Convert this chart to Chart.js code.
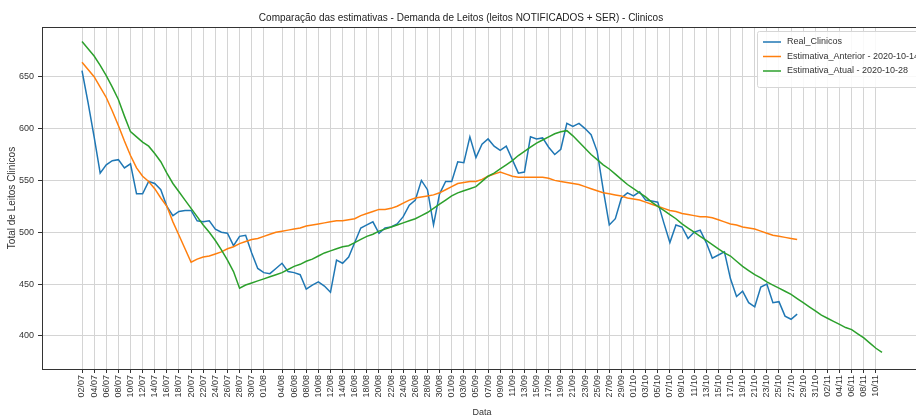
<!DOCTYPE html>
<html>
<head>
<meta charset="utf-8">
<script src="https://cdn.jsdelivr.net/npm/chart.js@4.4.0/dist/chart.umd.min.js"></script>
<style>
    html, body { margin: 0; padding: 0; overflow: hidden; background: #fff; }
    canvas { display: block; }
</style>
</head>
<body>
<canvas id="grafico" width="934" height="419"></canvas>
<script>
    "use strict";

    // Datas: um ponto por dia a partir de 02/07/2020
    const inicio = new Date(2020, 6, 2);
    const totalDias = 133;
    const datas = [];
    for (let i = 0; i < totalDias; i++) {
        const d = new Date(inicio.getFullYear(), inicio.getMonth(), inicio.getDate() + i);
        datas.push(String(d.getDate()).padStart(2, '0') + '/' + String(d.getMonth() + 1).padStart(2, '0'));
    }

    // Rotulos do eixo x (como no grafico original)
    const rotulosX = [
        '02/07', '04/07', '06/07', '08/07', '10/07', '12/07', '14/07', '16/07', '18/07', '20/07',
        '22/07', '24/07', '26/07', '28/07', '30/07', '01/08', '04/08', '06/08', '08/08', '10/08',
        '12/08', '14/08', '16/08', '18/08', '20/08', '22/08', '24/08', '26/08', '28/08', '30/08',
        '01/09', '03/09', '05/09', '07/09', '09/09', '11/09', '13/09', '15/09', '17/09', '19/09',
        '21/09', '23/09', '25/09', '27/09', '29/09', '01/10', '03/10', '05/10', '07/10', '09/10',
        '11/10', '13/10', '15/10', '17/10', '19/10', '21/10', '23/10', '25/10', '27/10', '29/10',
        '31/10', '02/11', '04/11', '06/11', '08/11', '10/11'
    ];
    const rotulosY = [400, 450, 500, 550, 600, 650];

    const realClinicos = [
        656, 625, 592, 557, 565, 569, 570, 562, 566, 537,
        537, 549, 547, 541, 525, 516, 520, 521, 521, 511,
        510, 511, 503, 500, 499, 487, 496, 497, 480, 465,
        461, 460, 465, 470, 462, 461, 459, 445, 449, 452,
        448, 442, 473, 470, 476, 490, 504, 507, 510, 499,
        504, 505, 508, 515, 526, 531, 550, 541, 507, 537,
        549, 549, 568, 567, 592, 572, 585, 590, 583, 579,
        583, 570, 557, 558, 592, 590, 591, 582, 575, 580,
        605, 602, 605, 600, 594, 578, 541, 507, 513, 533,
        538, 535, 539, 531, 530, 529, 509, 490, 507, 505,
        494, 500, 502, 490, 475, 478, 481, 455, 438, 443,
        432, 428, 447, 450, 432, 433, 419, 416, 421
    ];

    const estimativaAnterior = [
        664, 657, 650, 640, 630, 617, 603, 588, 574, 562,
        554, 549, 542, 533, 525, 510, 497, 484, 471, 474,
        476, 477, 479, 481, 484, 486, 489, 491, 493, 494,
        496, 498, 500, 501, 502, 503, 504, 506, 507, 508,
        509, 510, 511, 511, 512, 513, 516, 518, 520, 522,
        522, 523, 525, 528, 531, 533, 534, 535, 536, 538,
        541, 544, 547, 548, 549, 549, 551, 554, 556, 558,
        556, 554, 553, 553, 553, 553, 553, 552, 550, 549,
        548, 547, 546, 544, 542, 540, 538, 537, 536, 535,
        533, 532, 531, 529, 527, 525, 523, 521, 520, 518,
        517, 516, 515, 515, 514, 512, 510, 508, 507, 505,
        504, 503, 501, 499, 497, 496, 495, 494, 493
    ];

    const estimativaAtual = [
        684, 677, 670, 661, 651, 640, 628, 612, 597, 592,
        587, 583, 576, 568, 557, 547, 539, 531, 523, 515,
        507, 500, 492, 483, 473, 462, 446, 449, 451, 453,
        455, 457, 459, 461, 464, 467, 469, 472, 474, 477,
        480, 482, 484, 486, 487, 490, 493, 496, 498, 501,
        503, 505, 507, 509, 511, 513, 516, 519, 523, 527,
        531, 535, 538, 540, 542, 544, 549, 554, 557, 561,
        565, 569, 574, 578, 582, 586, 589, 592, 595, 597,
        598, 593, 587, 581, 575, 570, 565, 561, 556, 551,
        546, 542, 538, 534, 529, 525, 521, 517, 513, 508,
        504, 500, 496, 492, 488, 484, 480, 477, 472, 467,
        463, 459, 456, 452, 449, 446, 443, 440, 436, 432,
        428, 424, 420, 417, 414, 411, 408, 406, 402, 398,
        393, 388, 384
    ];

    function pontos(valores) {
        return valores.map(function (v, i) { return {x: i, y: v}; });
    }

    // Moldura do grafico (spines)
    const moldura = {
        id: 'moldura',
        afterDatasetsDraw: function (chart) {
            const a = chart.chartArea;
            const ctx = chart.ctx;
            ctx.save();
            ctx.strokeStyle = '#333';
            ctx.lineWidth = 1;
            ctx.strokeRect(a.left + 0.5, a.top + 0.5, a.right - a.left, a.bottom - a.top);
            ctx.restore();
        }
    };

    // Legenda no canto superior direito, dentro da area do grafico
    const legendaDentro = {
        id: 'legendaDentro',
        afterDraw: function (chart) {
            const a = chart.chartArea;
            const ctx = chart.ctx;
            const x = a.right - 165, y = a.top + 4;
            ctx.save();
            ctx.fillStyle = 'rgba(255,255,255,0.85)';
            ctx.strokeStyle = '#d6d6d6';
            ctx.lineWidth = 1;
            ctx.beginPath();
            ctx.roundRect(x + 0.5, y + 0.5, 164, 56, 2);
            ctx.fill();
            ctx.stroke();
            ctx.font = '9px "Liberation Sans"';
            ctx.textBaseline = 'middle';
            chart.data.datasets.forEach(function (ds, i) {
                const ly = y + 11 + i * 14.5;
                ctx.strokeStyle = ds.borderColor;
                ctx.lineWidth = 1.5;
                ctx.beginPath();
                ctx.moveTo(x + 6, ly);
                ctx.lineTo(x + 24, ly);
                ctx.stroke();
                ctx.fillStyle = '#333';
                ctx.fillText(ds.label, x + 30, ly);
            });
            ctx.restore();
        }
    };

    Chart.defaults.color = '#333';
    Chart.defaults.font.family = '"Liberation Sans", sans-serif';

    const ctx = document.getElementById('grafico').getContext('2d');
    const grafico = new Chart(ctx, {
        type: 'line',
        data: {
            datasets: [{
                label: 'Real_Clinicos',
                data: pontos(realClinicos),
                borderColor: '#1f77b4',
                borderWidth: 1.5,
                pointRadius: 0,
                order: 2
            }, {
                label: 'Estimativa_Anterior - 2020-10-14',
                data: pontos(estimativaAnterior),
                borderColor: '#ff7f0e',
                borderWidth: 1.5,
                pointRadius: 0,
                order: 1
            }, {
                label: 'Estimativa_Atual - 2020-10-28',
                data: pontos(estimativaAtual),
                borderColor: '#2ca02c',
                borderWidth: 1.5,
                pointRadius: 0,
                order: 0
            }]
        },
        options: {
            responsive: false,
            animation: false,
            layout: {padding: {left: 0, right: 12, top: 0, bottom: 0}},
            plugins: {
                legend: {display: false},
                tooltip: {enabled: false},
                title: {
                    display: true,
                    text: 'Comparação das estimativas - Demanda de Leitos (leitos NOTIFICADOS + SER) - Clinicos',
                    font: {size: 10, weight: 'normal'},
                    color: '#222',
                    padding: {top: 12, bottom: 3}
                }
            },
            scales: {
                x: {
                    type: 'linear',
                    min: -6.6,
                    max: 138.6,
                    afterBuildTicks: function (axis) {
                        axis.ticks = rotulosX.map(function (r) { return {value: datas.indexOf(r)}; });
                    },
                    afterFit: function (axis) { axis.height = 50; },
                    ticks: {
                        autoSkip: false,
                        minRotation: 90,
                        maxRotation: 90,
                        padding: 2,
                        font: {size: 9},
                        callback: function (v) { return datas[v]; }
                    },
                    grid: {color: '#d4d4d4', tickColor: '#333', tickLength: 4},
                    border: {display: false},
                    title: {display: true, text: 'Data', font: {size: 9}, padding: {top: 0, bottom: 1}}
                },
                y: {
                    min: 368,
                    max: 698,
                    afterBuildTicks: function (axis) {
                        axis.ticks = rotulosY.map(function (v) { return {value: v}; });
                    },
                    afterFit: function (axis) { axis.width = 42; },
                    ticks: {padding: 4, font: {size: 9}},
                    grid: {color: '#d4d4d4', tickColor: '#333', tickLength: 4},
                    border: {display: false},
                    title: {display: true, text: 'Total de Leitos Clinicos', font: {size: 10}, padding: {top: 6, bottom: 0}}
                }
            }
        },
        plugins: [moldura, legendaDentro]
    });
</script>
</body>
</html>
